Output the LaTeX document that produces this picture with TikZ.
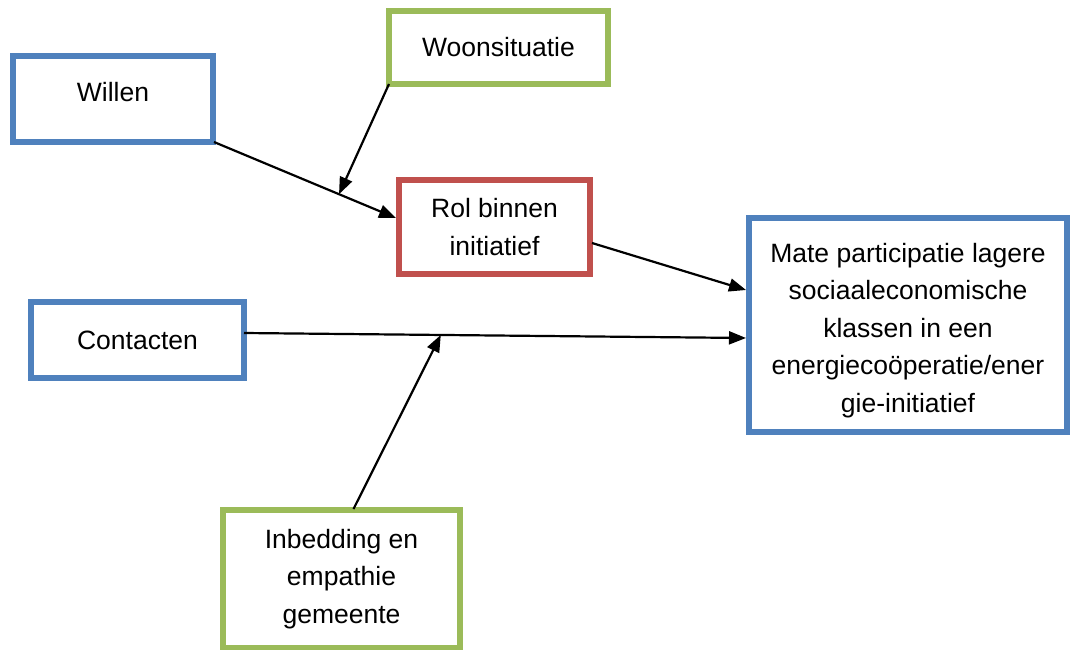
\documentclass[tikz,border=0pt]{standalone}
\usepackage{fontspec}
\setmainfont{Liberation Sans}
\usetikzlibrary{arrows.meta,calc}
\definecolor{boxblue}{HTML}{4F81BD}
\definecolor{boxgreen}{HTML}{9BBB59}
\definecolor{boxred}{HTML}{C0504D}
\tikzset{
  conceptbox/.style={draw, line width=6pt, fill=white, inner sep=0pt, align=center,
    font=\fontsize{26.5}{37.5}\selectfont},
  bluebox/.style={conceptbox, draw=boxblue},
  greenbox/.style={conceptbox, draw=boxgreen},
  redbox/.style={conceptbox, draw=boxred},
  arrowline/.style={line width=2.2pt, -{Triangle[length=17pt,width=13pt]}}
}
\begin{document}
\begin{tikzpicture}[x=1pt,y=-1pt]
\useasboundingbox (0,0) rectangle (1070,650);
\node[bluebox, minimum width=200pt, minimum height=86pt] (willen) at (113,99) {\raisebox{14pt}{Willen}};
\node[greenbox, minimum width=219pt, minimum height=73pt] (woon) at (498.5,47.5) {Woonsituatie};
\node[redbox, minimum width=191pt, minimum height=94pt] (rol) at (494.5,227) {Rol binnen\\initiatief};
\node[bluebox, minimum width=318pt, minimum height=214pt] (mate) at (908,325) {\rule{0pt}{30pt}Mate participatie lagere\\sociaaleconomische\\klassen in een\\energiecoöperatie/ener\\gie-initiatief};
\node[bluebox, minimum width=213pt, minimum height=76pt] (contacten) at (137.5,340) {Contacten};
\node[greenbox, minimum width=237pt, minimum height=138pt] (inbed) at (341.5,579) {Inbedding en\\empathie\\gemeente};

\draw[arrowline] ($(willen.south east)+(-2,-3)$) -- coordinate[pos=0.687] (j1) ($(rol.west)+(0,-9)$);
\draw[arrowline] ($(woon.south west)+(3,-3)$) -- (j1);
\draw[arrowline] ($(rol.east)+(-1,16)$) -- ($(mate.west)+(0,-35)$);
\draw[arrowline] ($(contacten.east)+(-3,-7)$) -- coordinate[pos=0.392] (j2) ($(mate.west)+(0,13)$);
\draw[arrowline] ($(inbed.north)+(12,2)$) -- (j2);
\end{tikzpicture}
\end{document}
